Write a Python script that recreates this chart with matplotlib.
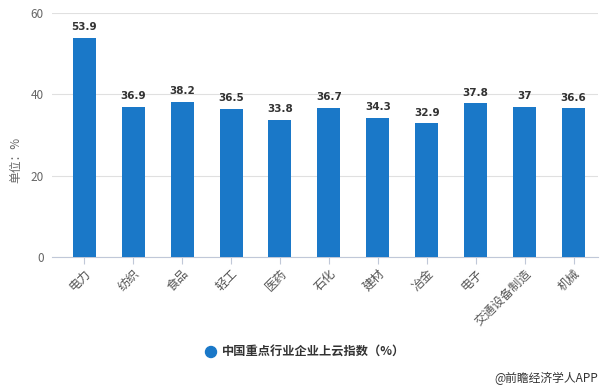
import matplotlib
matplotlib.use("Agg")
import matplotlib.pyplot as plt

plt.rcParams['font.family'] = ['Noto Sans CJK SC', 'DejaVu Sans']

categories = ["电力", "纺织", "食品", "轻工", "医药", "石化", "建材", "冶金", "电子", "交通设备制造", "机械"]
values = [53.9, 36.9, 38.2, 36.5, 33.8, 36.7, 34.3, 32.9, 37.8, 37, 36.6]
value_labels = ["53.9", "36.9", "38.2", "36.5", "33.8", "36.7", "34.3", "32.9", "37.8", "37", "36.6"]
series_name = "中国重点行业企业上云指数（%）"
y_ticks = [0, 20, 40, 60]

bar_color = "#1a78c8"

fig = plt.figure(figsize=(6.1, 3.89), dpi=100)
ax = fig.add_axes([52/610, 1-257/389, (598-52)/610, (257-13)/389])

x = list(range(len(categories)))
ax.bar(x, values, width=0.47, color=bar_color, zorder=3)
for xi, v, lab in zip(x, values, value_labels):
    ax.annotate(lab, (xi, v), xytext=(0, 4), textcoords="offset points",
                ha="center", va="bottom", fontsize=7.5, fontweight="bold", color="#333333",
                family=['DejaVu Sans'])

ax.set_xlim(-0.66, 10.5)
ax.set_ylim(0, 60)
ax.set_yticks(y_ticks)
ax.set_yticklabels([str(t) for t in y_ticks], fontsize=8.5, color="#666666")
ax.tick_params(axis="y", length=0, pad=6)
ax.yaxis.grid(True, color="#e0e0e0", linewidth=0.8, zorder=0)
ax.set_xticks(x)
ax.set_xticklabels(categories, rotation=45, ha="right", rotation_mode="anchor",
                   fontsize=8.8, color="#555555")
ax.tick_params(axis="x", length=5, color="#c0c8d8", width=0.8, pad=2)
for s in ["top", "right", "left"]:
    ax.spines[s].set_visible(False)
ax.spines["bottom"].set_color("#c0c8d8")
ax.spines["bottom"].set_linewidth(0.8)

fig.text(16/610, 1-160/389, "单位：%", rotation=90, ha="center", va="center",
         fontsize=8.5, color="#666666")

# legend
fig.patches.append(matplotlib.patches.Ellipse((211/610, 1-352/389), 11/610, 11/389,
                   transform=fig.transFigure, color=bar_color, figure=fig))
fig.text(222/610, 1-352/389, series_name, ha="left", va="center", fontsize=8.8,
         fontweight="bold", color="#333333")

fig.text(598/610, 1-378/389, "@前瞻经济学人APP", ha="right", va="center", fontsize=8.5,
         color="#333333")

fig.savefig("out.png", dpi=100)
